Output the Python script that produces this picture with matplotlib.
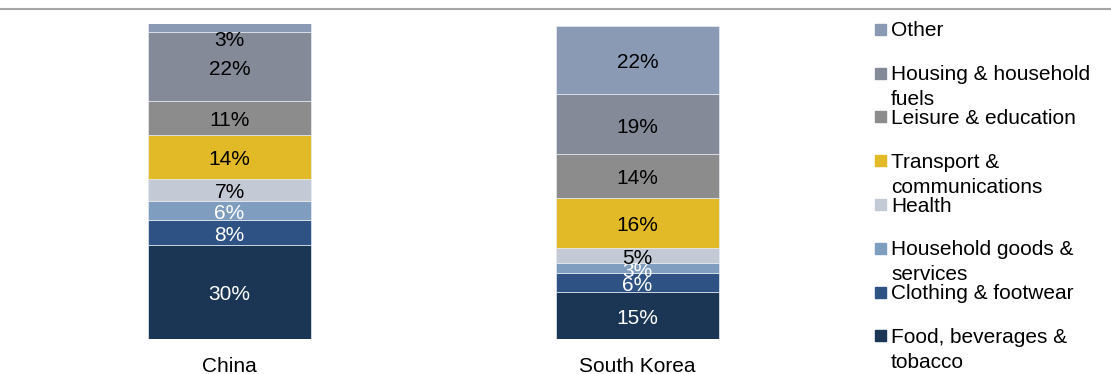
import matplotlib.pyplot as plt
from matplotlib.lines import Line2D
from matplotlib.patches import Rectangle

plt.rcParams['font.family'] = ['Liberation Sans', 'DejaVu Sans']

countries = ['China', 'South Korea']
categories = ['Food, beverages &\ntobacco', 'Clothing & footwear',
              'Household goods &\nservices', 'Health',
              'Transport &\ncommunications', 'Leisure & education',
              'Housing & household\nfuels', 'Other']
china = [30, 8, 6, 7, 14, 11, 22, 3]
korea = [15, 6, 3, 5, 16, 14, 19, 22]

colors = ['#1b3655', '#2e5283', '#7f9dbf', '#c3cad5',
          '#e2b927', '#8c8c8c', '#848a98', '#8a9ab4']
text_colors = ['white', 'white', 'white', 'black',
               'black', 'black', 'black', 'black']

W, H = 1111, 374
fig = plt.figure(figsize=(W / 100, H / 100), dpi=100)
ax = fig.add_axes([25.5 / W, (H - 338.5) / H, 816 / W, 314.5 / H])

values = [china, korea]
x = [0, 1]
bottoms = [0, 0]
for i in range(len(categories)):
    seg = [v[i] for v in values]
    ax.bar(x, seg, width=0.4, bottom=bottoms, color=colors[i],
           edgecolor='#e8ecf2', linewidth=0.5)
    for j in range(2):
        yc = bottoms[j] + seg[j] / 2
        off = -3
        if j == 0 and i == len(categories) - 1:
            off = -13   # small top slice: label sits just below it
        ax.annotate(f'{seg[j]}%', (x[j], yc), xytext=(0, off),
                    textcoords='offset pixels', ha='center', va='center',
                    fontsize=15, color=text_colors[i])
    bottoms = [b + s for b, s in zip(bottoms, seg)]

ax.set_xlim(-0.5, 1.5)
ax.set_ylim(0, 100.5)
ax.axis('off')

for j, name in enumerate(countries):
    ax.annotate(name, (x[j], 0), xytext=(0, -28), textcoords='offset pixels',
                ha='center', va='center', fontsize=15)

# thin rule across the top
fig.add_artist(Line2D([0, 1], [(H - 9) / H, (H - 9) / H],
                      color='#a6a6a6', linewidth=1.5))

# legend, top entry first; wrapped labels hang below the marker
for k, i in enumerate(reversed(range(len(categories)))):
    yc = 29.3 + k * 43.8
    fig.add_artist(Rectangle((875 / W, (H - yc - 5.5) / H), 11 / W, 11 / H,
                             color=colors[i], transform=fig.transFigure))
    for m, line in enumerate(categories[i].split('\n')):
        fig.text(891 / W, (H - yc - 7 - m * 25) / H, line, ha='left',
                 va='baseline', fontsize=15)

fig.savefig('out.png', dpi=100)
